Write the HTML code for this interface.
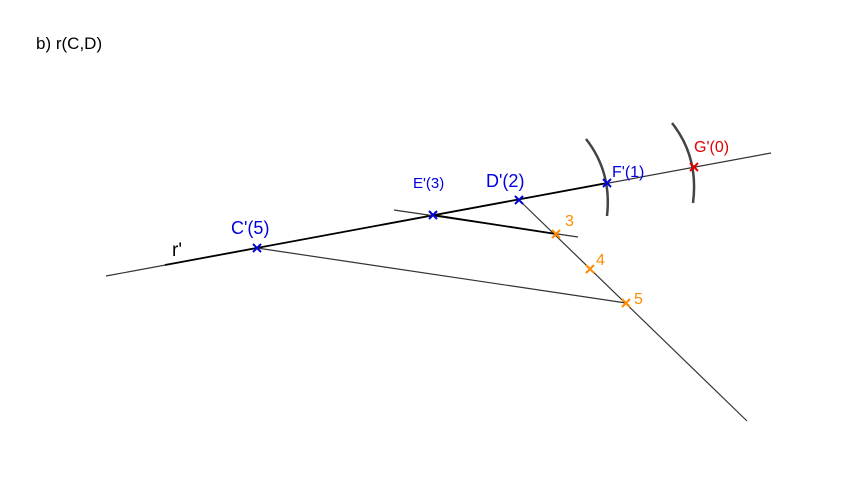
<!DOCTYPE html>
<html><head><style>body{margin:0;background:#fff}svg{display:block}</style></head>
<body>
<svg width="865" height="488" xmlns="http://www.w3.org/2000/svg" font-family="Liberation Sans, sans-serif">
<text x="36" y="49" font-size="17" fill="#000">b) r(C,D)</text>
<g stroke="#333" fill="none">
<line x1="106" y1="276" x2="771" y2="153" stroke-width="1.2"/>
<line x1="165" y1="265" x2="607" y2="183" stroke="#000" stroke-width="1.8"/>
<line x1="519" y1="200" x2="747" y2="421" stroke-width="1.2"/>
<line x1="394" y1="210" x2="578" y2="237" stroke-width="1.2"/>
<line x1="433" y1="215" x2="556" y2="234" stroke="#000" stroke-width="1.8"/>
<line x1="257" y1="248" x2="626" y2="303" stroke-width="1.2"/>
<path d="M586,139 Q612,172 607,216" stroke="#444" stroke-width="2.5"/>
<path d="M672,123 Q699,157 693,203" stroke="#444" stroke-width="2.5"/>
</g>
<g stroke-width="2" fill="none">
<g stroke="#0000e0">
<path d="M253,244l8,8M261,244l-8,8"/>
<path d="M429,211l8,8M437,211l-8,8"/>
<path d="M515,196l8,8M523,196l-8,8"/>
<path d="M603,179l8,8M611,179l-8,8"/>
</g>
<path d="M690,163l8,8M698,163l-8,8" stroke="#e00000"/>
<g stroke="#ff8c00">
<path d="M552,230l8,8M560,230l-8,8"/>
<path d="M586,265l8,8M594,265l-8,8"/>
<path d="M622,299l8,8M630,299l-8,8"/>
</g>
</g>
<text x="172" y="256" font-size="19">r'</text>
<text x="231" y="234" font-size="18" fill="#0000e0">C'(5)</text>
<text x="413" y="188" font-size="15" fill="#0000e0">E'(3)</text>
<text x="486" y="187" font-size="18" fill="#0000e0">D'(2)</text>
<text x="612" y="177" font-size="16" fill="#0000e0">F'(1)</text>
<text x="694" y="152" font-size="16" fill="#e00000">G'(0)</text>
<text x="565" y="226" font-size="16" fill="#ff8c00">3</text>
<text x="596" y="265" font-size="16" fill="#ff8c00">4</text>
<text x="634" y="304" font-size="16" fill="#ff8c00">5</text>
</svg>
</body></html>
